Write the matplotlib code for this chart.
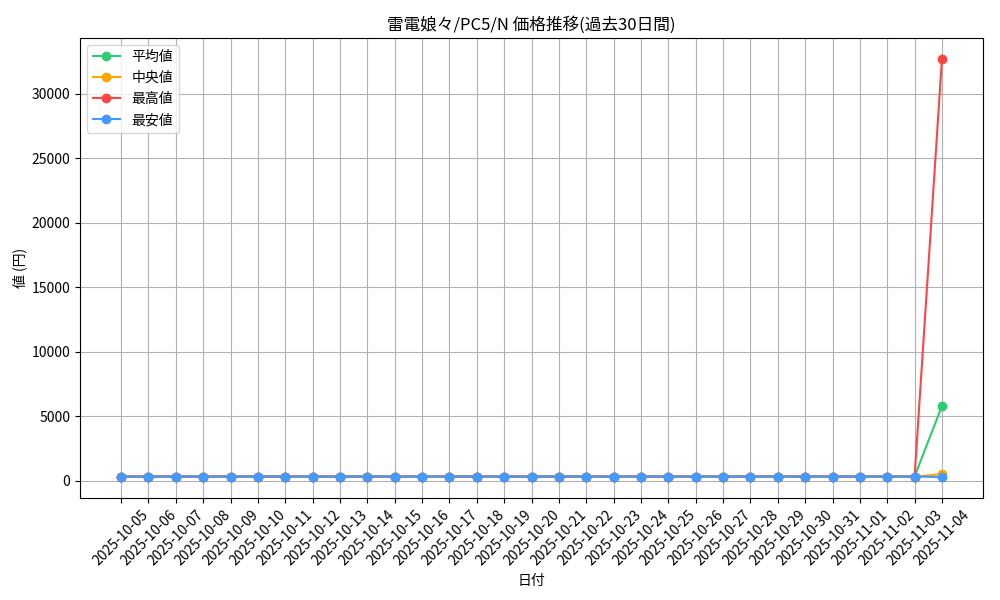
import matplotlib
matplotlib.use("Agg")
import matplotlib.pyplot as plt

plt.rcParams["font.family"] = ["Noto Sans CJK JP", "DejaVu Sans"]
plt.rcParams["axes.unicode_minus"] = False

dates = ["2025-10-%02d" % d for d in range(5, 32)] + ["2025-11-%02d" % d for d in range(1, 5)]
base = 333
mean_vals = [base] * 30 + [5800]
median_vals = [base] * 30 + [518]
max_vals = [base] * 30 + [32700]
min_vals = [base] * 30 + [290]

series = [
    ("平均値", mean_vals, "#2ECC71"),
    ("中央値", median_vals, "#FFA500"),
    ("最高値", max_vals, "#FF4444"),
    ("最安値", min_vals, "#4499FF"),
]

fig, ax = plt.subplots(figsize=(10, 6), dpi=100)
x = list(range(len(dates)))
for label, vals, color in series:
    ax.plot(x, vals, marker="o", color=color, label=label, lw=1.5, markersize=6)

ax.set_xticks(x)
ax.set_xticklabels(dates, rotation=45)
ax.set_title("雷電娘々/PC5/N 価格推移(過去30日間)", fontsize=12)
ax.set_xlabel("日付")
ax.set_ylabel("値 (円)")
ax.yaxis.set_label_coords(-0.058, 0.5)
ax.legend(loc="upper left")
ax.grid(True)
fig.subplots_adjust(left=0.08, right=0.983, top=0.937, bottom=0.17)
fig.savefig("out.png", dpi=100)
plt.close()
